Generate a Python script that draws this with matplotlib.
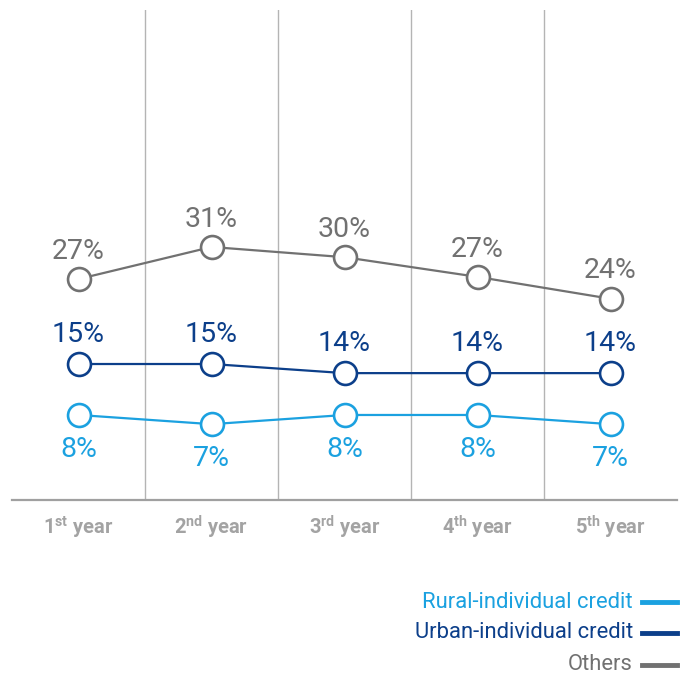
import matplotlib
matplotlib.use("Agg")
import matplotlib.pyplot as plt
from matplotlib.lines import Line2D

plt.rcParams['font.family'] = ['Roboto', 'DejaVu Sans']
plt.rcParams['mathtext.fontset'] = 'custom'
plt.rcParams['mathtext.rm'] = 'Roboto'
plt.rcParams['mathtext.bf'] = 'Roboto:bold'

# ---- data ----
year_nums = ["1", "2", "3", "4", "5"]
year_sufs = ["st", "nd", "rd", "th", "th"]
others = [26.6, 31.0, 29.6, 26.9, 23.9]
urban = [14.95, 14.95, 13.7, 13.7, 13.7]
rural = [7.96, 6.7, 7.96, 7.96, 6.7]
series_names = ["Rural-individual credit", "Urban-individual credit", "Others"]

c_rural = '#1ba1e0'
c_urban = '#0c3f8a'
c_others = '#717171'

W, H = 694, 674
fig = plt.figure(figsize=(W / 100, H / 100), dpi=100)
ax = fig.add_axes([12 / W, (H - 500) / H, 665 / W, 490 / H])

x = list(range(len(year_nums)))
ax.set_xlim(-0.5, 4.5)
ax.set_ylim(-3.70, 63.5)

for xv in [0.5, 1.5, 2.5, 3.5]:
    ax.axvline(xv, color='#b4b4b4', lw=1.0, zorder=0)

series = [(rural, c_rural, -24.5), (urban, c_urban, 21.0), (others, c_others, 20.0)]
for vals, col, off in series:
    ax.plot(x, vals, color=col, lw=1.6, marker='o', ms=16.5, mfc='white',
            mec=col, mew=1.9, zorder=3, clip_on=False)
    for xi, v in zip(x, vals):
        ax.annotate(f"{round(v)}%", (xi, v), xytext=(0, off), textcoords='offset points',
                    ha='center', va='center', fontsize=20.5, color=col, fontweight='normal')

for s in ['left', 'right', 'top']:
    ax.spines[s].set_visible(False)
ax.spines['bottom'].set_color('#a0a0a0')
ax.spines['bottom'].set_linewidth(1.6)
ax.set_yticks([])
ax.set_xticks(x)
ax.set_xticklabels([f"{n}$^{{\\mathbf{{{s}}}}}$ year" for n, s in zip(year_nums, year_sufs)],
                   fontsize=14.5, fontweight='bold', color='#a3a3a3')
ax.tick_params(axis='x', length=0, pad=10)

# legend
leg_rows = [(602, c_rural), (633, c_urban), (665, c_others)]
for name, (yp, col) in zip(series_names, leg_rows):
    fy = (H - yp) / H
    fig.text(633 / W, fy, name, ha='right', va='center', fontsize=15.8, color=col)
    fig.add_artist(Line2D([642 / W, 677 / W], [fy, fy], color=col, lw=3.5,
                          transform=fig.transFigure))

fig.savefig("out.png", dpi=100)
